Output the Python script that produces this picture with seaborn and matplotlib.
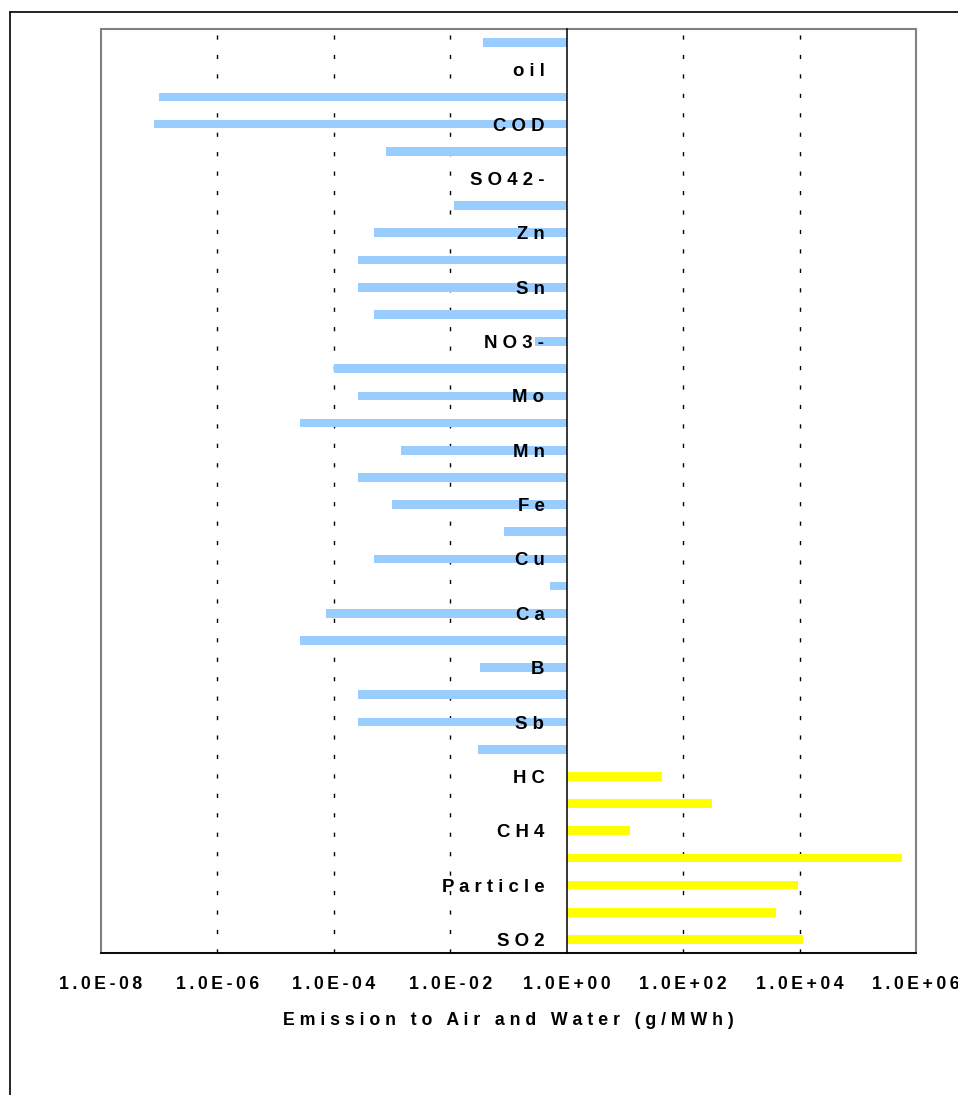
import numpy as np
import pandas as pd
import matplotlib
matplotlib.use("Agg")
import matplotlib.pyplot as plt
import seaborn as sns
import seaborn.objects as so
from matplotlib.lines import Line2D
from matplotlib.patches import Rectangle
from matplotlib.ticker import FixedLocator, NullLocator

# ---- data (bottom row first) ----
air_substances = ["SO2", "NOx", "Particle", "CO2", "CH4", "CO", "HC"]
air_values = [1.13e4, 3.9e3, 9.3e3, 5.7e5, 12.0, 310.0, 43.0]

water_substances = ["Al", "Sb", "As", "B", "Cd", "Ca", "Cr", "Cu", "CN-", "Fe",
                    "Pb", "Mn", "Hg", "Mo", "Ni", "NO3-", "Se", "Sn", "V", "Zn",
                    "Cl-", "SO42-", "PO43-", "COD", "BOD", "oil", "N"]
water_values = [0.030, 2.6e-4, 2.6e-4, 0.032, 2.6e-5, 7.2e-5, 0.51, 4.8e-4, 0.083, 9.8e-4,
                2.6e-4, 1.45e-3, 2.6e-5, 2.6e-4, 1.0e-4, 0.29, 4.8e-4, 2.6e-4, 2.6e-4, 4.8e-4,
                0.0115, np.nan, 7.8e-4, 8.0e-8, 1.0e-7, np.nan, 0.036]

shown_labels = ["SO2", "Particle", "CH4", "HC", "Sb", "B", "Ca", "Cu", "Fe", "Mn",
                "Mo", "NO3-", "Sn", "Zn", "SO42-", "COD", "oil"]
tick_exponents = [-8, -6, -4, -2, 0, 2, 4, 6]
x_title = "Emission to Air and Water (g/MWh)"

substances = air_substances + water_substances
values = air_values + water_values
media = ["air"] * len(air_substances) + ["water"] * len(water_substances)
df = pd.DataFrame({"substance": substances, "emission": values, "medium": media})
order = substances[::-1]  # top row first

FONT = "Liberation Sans"
sns.set_style("white")
plt.rcParams["font.family"] = FONT
plt.rcParams["font.weight"] = "bold"

def spaced(s, sep):
    return sep.join(list(s))

W, H = 958, 1095
fig = plt.figure(figsize=(W / 100, H / 100), dpi=100)
L, R, T, B = 101, 916, 29, 953
ax = fig.add_axes([L / W, 1 - B / H, (R - L) / W, (B - T) / H])

(
    so.Plot(df.dropna(), x="emission", y="substance", color="medium")
    .add(so.Bar(width=0.32, alpha=1, edgewidth=0, baseline=1), legend=False)
    .scale(x="log", y=so.Nominal(order=order),
           color={"water": "#99CCFF", "air": "#FFFF00"})
    .theme({**sns.axes_style("white"), "font.family": FONT, "font.weight": "bold"})
    .on(ax)
    .plot()
)

n = len(order)
ax.set_xscale("log")
ax.set_xlim(10.0 ** tick_exponents[0], 10.0 ** tick_exponents[-1])
ax.set_ylim(n - 0.5, -0.5)
ax.set_facecolor("white")

# x ticks
xt = [10.0 ** e for e in tick_exponents]
ax.xaxis.set_major_locator(FixedLocator(xt))
ax.xaxis.set_minor_locator(NullLocator())
ax.set_xticklabels([spaced(f"1.0E{e:+03d}", "\u2009") for e in tick_exponents],
                   fontweight="bold", family=FONT)
ax.tick_params(axis="x", which="major", direction="in", length=5, width=1,
               color="black", pad=16.5, labelsize=12.7, labelcolor="black")

# y ticks: labels every other row, tick marks between rows
ypos = [i for i, s in enumerate(order) if s in shown_labels]
ax.yaxis.set_major_locator(FixedLocator(ypos))
ax.set_yticklabels([spaced(order[i], " ") for i in ypos], fontweight="bold", family=FONT)
ax.yaxis.set_minor_locator(FixedLocator(np.arange(0.5, n - 1, 1.0)))
ax.tick_params(axis="y", which="major", length=0, pad=16, labelsize=13.4,
               labelcolor="black")
ax.tick_params(axis="y", which="minor", direction="in", length=4, width=1, color="black")
ax.yaxis.set_zorder(10)

ax.set_ylabel("")
ax.set_xlabel(spaced(x_title, " "), fontsize=12.8, fontweight="bold",
              family=FONT, labelpad=13.5, color="black")

# grid: dotted vertical lines
ax.grid(False)
for e in tick_exponents[1:-1]:
    if e != 0:
        ax.axvline(10.0 ** e, color="black", lw=1, ls=(0, (3, 11)), zorder=0.5)

# spines
for s in ["top", "right"]:
    ax.spines[s].set_visible(False)
ax.spines["left"].set_position(("data", 1))
ax.spines["left"].set_color("black")
ax.spines["left"].set_linewidth(1.1)
ax.spines["left"].set_zorder(3)
ax.spines["bottom"].set_color("black")
ax.spines["bottom"].set_linewidth(1.3)
ax.add_patch(Rectangle((0, 0), 1, 1, transform=ax.transAxes, fill=False,
                       edgecolor="#808080", lw=1.5, zorder=0.4, clip_on=False))

# outer chart border (left and top)
fig.add_artist(Line2D([9.5 / W, 9.5 / W], [0, 1 - 11.5 / H], transform=fig.transFigure,
                      color="black", lw=1.2))
fig.add_artist(Line2D([9.5 / W, 1], [1 - 11.5 / H, 1 - 11.5 / H], transform=fig.transFigure,
                      color="black", lw=1.2))

fig.savefig("out.png", dpi=100, facecolor="white")
